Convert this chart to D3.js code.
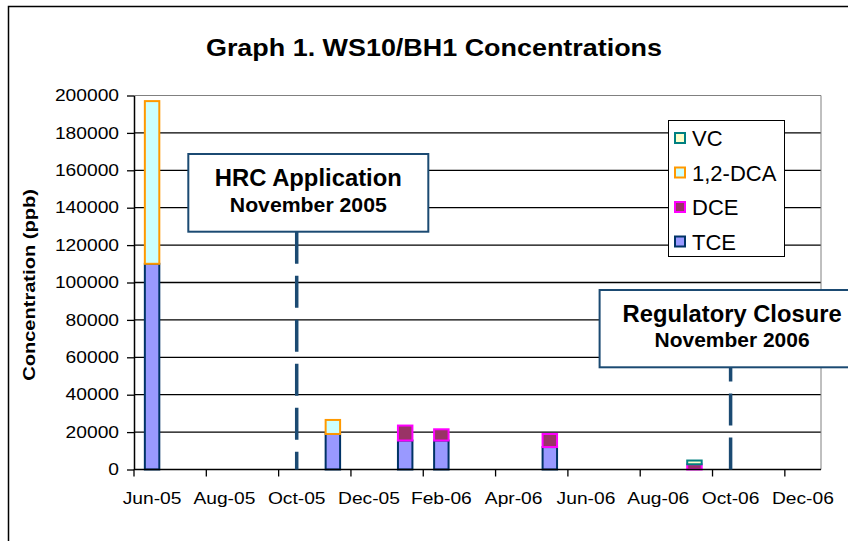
<!DOCTYPE html>
<html>
<head>
<meta charset="utf-8">
<script src="https://cdn.jsdelivr.net/npm/d3@7"></script>
<style>
  body { margin: 0; background: #fff; }
  text { font-family: "Liberation Sans", Arial, sans-serif; }
</style>
</head>
<body>
<div id="root"></div>
<script>
// monthly slots on the date axis
const months = ['Jun-05', 'Jul-05', 'Aug-05', 'Sep-05', 'Oct-05', 'Nov-05', 'Dec-05',
                'Jan-06', 'Feb-06', 'Mar-06', 'Apr-06', 'May-06', 'Jun-06', 'Jul-06',
                'Aug-06', 'Sep-06', 'Oct-06', 'Nov-06', 'Dec-06'];
const tce = [110000, 0, 0, 0, 0, 19000, 0, 15500, 15500, 0, 0, 12000, 0, 0, 0, 0, 0, 0, 0];
const dce = [0, 0, 0, 0, 0, 0, 0, 8000, 6000, 0, 0, 7000, 0, 0, 0, 2800, 0, 0, 0];
const dca = [87000, 0, 0, 0, 0, 7500, 0, 0, 0, 0, 0, 0, 0, 0, 0, 0, 0, 0, 0];
const vc  = [0, 0, 0, 0, 0, 0, 0, 0, 0, 0, 0, 0, 0, 0, 0, 2000, 0, 0, 0];
const seriesNames = ['TCE', 'DCE', '1,2-DCA', 'VC'];
const yTicks = [0, 20000, 40000, 60000, 80000, 100000, 120000, 140000, 160000, 180000, 200000];
const xTickLabels = ['Jun-05', 'Aug-05', 'Oct-05', 'Dec-05', 'Feb-06', 'Apr-06',
                     'Jun-06', 'Aug-06', 'Oct-06', 'Dec-06'];
const eventMonths = ['Oct-05', 'Oct-06'];
const eventTitles = ['HRC Application', 'Regulatory Closure'];
const eventDates = ['November 2005', 'November 2006'];

const fills = { 'TCE': '#9999ff', 'DCE': '#993366', '1,2-DCA': '#ccffff', 'VC': '#ffffcc' };
const strokes = { 'TCE': '#003366', 'DCE': '#ff00ff', '1,2-DCA': '#ff9900', 'VC': '#008080' };
const navy = '#1b4a72';

const w = 848, h = 541;
const plotL = 134, plotR = 821, plotT = 95.5, plotB = 469.5;

function stretch(sel, k) {
  sel.each(function() {
    const len = this.getComputedTextLength();
    d3.select(this).attr('textLength', len * k).attr('lengthAdjust', 'spacingAndGlyphs');
  });
}

const svg = d3.select('#root')
  .append('svg')
  .attr('width', w)
  .attr('height', h);

// outer chart border (runs off the right and bottom edges)
svg.append('rect')
  .attr('x', 8.5).attr('y', 6.5)
  .attr('width', 900).attr('height', 600)
  .attr('fill', 'none').attr('stroke', '#000').attr('stroke-width', 1.5);

const x = d3.scaleBand().domain(months).range([plotL, plotR]);
const y = d3.scaleLinear().domain([0, 200000]).range([plotB, plotT]);

// gridlines
svg.append('g')
  .selectAll('line')
  .data(yTicks.filter(d => d > 0 && d < 200000))
  .enter()
  .append('line')
  .attr('x1', plotL).attr('x2', plotR)
  .attr('y1', d => y(d)).attr('y2', d => y(d))
  .attr('stroke', '#000').attr('stroke-width', 1.3);

// plot border top/right
svg.append('path')
  .attr('d', `M${plotL},${plotT}H${plotR}V${plotB}`)
  .attr('fill', 'none').attr('stroke', '#808080').attr('stroke-width', 1);

// stacked bars
const rows = months.map((m, i) => ({ month: m, 'TCE': tce[i], 'DCE': dce[i], '1,2-DCA': dca[i], 'VC': vc[i] }));
const stacked = d3.stack().keys(seriesNames)(rows);
const barW = x.bandwidth() * 0.4;

svg.append('g')
  .selectAll('g')
  .data(stacked)
  .enter()
  .append('g')
  .attr('fill', d => fills[d.key])
  .attr('stroke', d => strokes[d.key])
  .attr('stroke-width', 2)
  .selectAll('rect')
  .data(d => d.filter(s => s[1] - s[0] > 0))
  .enter()
  .append('rect')
  .attr('x', d => x(d.data.month) + (x.bandwidth() - barW) / 2)
  .attr('y', d => y(d[1]))
  .attr('width', barW)
  .attr('height', d => y(d[0]) - y(d[1]));

// y axis
const yAxis = svg.append('g')
  .attr('transform', `translate(${plotL},0)`)
  .call(d3.axisLeft(y).tickValues(yTicks).tickSize(7).tickSizeOuter(0).tickPadding(8)
    .tickFormat(d3.format('d')));
yAxis.select('.domain').attr('stroke', '#000').attr('stroke-width', 1.5);
yAxis.selectAll('.tick line').attr('stroke', '#000').attr('stroke-width', 1.3);
yAxis.selectAll('.tick text')
  .attr('font-size', 16).attr('fill', '#000')
  .attr('font-family', '"Liberation Sans", Arial, sans-serif')
  .call(stretch, 1.2);

// x axis: ticks at month starts, labels at month centres
const xg = svg.append('g');
xg.append('line')
  .attr('x1', plotL).attr('x2', plotR)
  .attr('y1', plotB).attr('y2', plotB)
  .attr('stroke', '#000').attr('stroke-width', 1.5);
xg.selectAll('line.tick')
  .data(xTickLabels)
  .enter()
  .append('line')
  .attr('class', 'tick')
  .attr('x1', d => x(d)).attr('x2', d => x(d))
  .attr('y1', plotB).attr('y2', plotB + 7)
  .attr('stroke', '#000').attr('stroke-width', 1.3);
xg.selectAll('text')
  .data(xTickLabels)
  .enter()
  .append('text')
  .attr('x', d => x(d) + x.bandwidth() / 2)
  .attr('y', 504)
  .attr('text-anchor', 'middle')
  .attr('font-size', 16)
  .text(d => d)
  .call(stretch, 1.2);

// y axis title
svg.append('text')
  .attr('transform', 'translate(35,285) rotate(-90)')
  .attr('text-anchor', 'middle')
  .attr('font-size', 17)
  .attr('font-weight', 'bold')
  .text('Concentration (ppb)')
  .call(stretch, 1.18);

// title
svg.append('text')
  .attr('x', 434).attr('y', 56)
  .attr('text-anchor', 'middle')
  .attr('font-size', 23)
  .attr('font-weight', 'bold')
  .text('Graph 1. WS10/BH1 Concentrations')
  .call(stretch, 1.17);

// legend
const legend = svg.append('g');
legend.append('rect')
  .attr('x', 668.5).attr('y', 120.5)
  .attr('width', 116).attr('height', 136)
  .attr('fill', '#fff').attr('stroke', '#000').attr('stroke-width', 1);
const legendKeys = seriesNames.slice().reverse();
const items = legend.selectAll('g.item')
  .data(legendKeys)
  .enter()
  .append('g')
  .attr('transform', (d, i) => `translate(0,${138 + i * 34.5})`);
items.append('rect')
  .attr('x', 675).attr('y', -5)
  .attr('width', 10).attr('height', 10)
  .attr('fill', d => fills[d])
  .attr('stroke', d => strokes[d])
  .attr('stroke-width', 2);
items.append('text')
  .attr('x', 692).attr('y', 8)
  .attr('font-size', 22)
  .text(d => d);

// event annotations
const boxes = [
  { dx: -108.4, width: 240, top: 154, height: 77.7, tx: 11.6, b1: 186, b2: 211.5, w1: 187, w2: 157 },
  { dx: -131, width: 265, top: 290, height: 77.3, tx: 1.5, b1: 321.7, b2: 346.7, w1: 219, w2: 155 }
];
eventMonths.forEach((m, i) => {
  const lx = x(m) + x.bandwidth() / 2;
  const b = boxes[i];
  const line = svg.append('line')
    .attr('x1', lx).attr('x2', lx)
    .attr('stroke', navy).attr('stroke-width', 3.5)
    .attr('stroke-dasharray', '32,12');
  if (i === 0) {
    line.attr('y1', b.top + b.height).attr('y2', plotB);
  } else {
    line.attr('y1', plotB).attr('y2', b.top + 10);
  }
  svg.append('rect')
    .attr('x', lx + b.dx).attr('y', b.top)
    .attr('width', b.width).attr('height', b.height)
    .attr('fill', '#fff').attr('stroke', navy).attr('stroke-width', 2);
  svg.append('text')
    .attr('x', lx + b.tx).attr('y', b.b1)
    .attr('text-anchor', 'middle')
    .attr('font-size', 23).attr('font-weight', 'bold')
    .attr('textLength', b.w1).attr('lengthAdjust', 'spacingAndGlyphs')
    .text(eventTitles[i]);
  svg.append('text')
    .attr('x', lx + b.tx).attr('y', b.b2)
    .attr('text-anchor', 'middle')
    .attr('font-size', 20).attr('font-weight', 'bold')
    .attr('textLength', b.w2).attr('lengthAdjust', 'spacingAndGlyphs')
    .text(eventDates[i]);
});
</script>
</body>
</html>
